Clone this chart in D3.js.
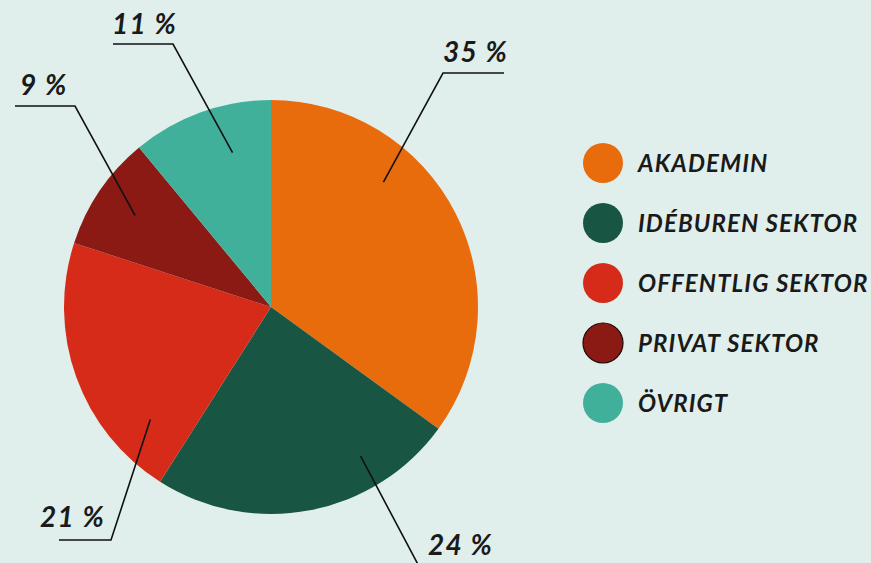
<!DOCTYPE html>
<html>
<head>
<meta charset="utf-8">
<script src="https://cdn.jsdelivr.net/npm/d3@7"></script>
<style>
  html, body { margin: 0; padding: 0; background: #e0efec; }
  svg { display: block; }
  text { font-family: Lato, "Open Sans", sans-serif; font-style: italic; font-weight: 700; fill: #1a1a1a; }
</style>
</head>
<body>
<svg id="chart" width="871" height="563"></svg>
<script>
const categories = ['AKADEMIN', 'IDÉBUREN SEKTOR', 'OFFENTLIG SEKTOR', 'PRIVAT SEKTOR', 'ÖVRIGT'];
const values = [35, 24, 21, 9, 11];
const colors = ['#e96c0c', '#185543', '#d62b18', '#8b1914', '#41b09b'];

// leader line layout: angle (deg, clockwise from top) and radius of inner end,
// elbow point, horizontal run and label position
const leaders = [
    {angle: 42, r: 168, elbow: [443, 73], run: [443, 504], label: [443, 62]},
    {angle: 149, r: 174, elbow: [422, 572], run: [422, 500], label: [428, 555]},
    {angle: 227, r: 165, elbow: [111, 540], run: [59, 111], label: [40, 527]},
    {angle: 304, r: 164, elbow: [75, 106], run: [15, 75], label: [20, 95]},
    {angle: 346, r: 159, elbow: [173, 44], run: [113, 173], label: [112, 34]}
];

const svg = d3.select('#chart');
const cx = 271, cy = 307, radius = 207;

const pie = d3.pie().sort(null).value(d => d)(values);
const arc = d3.arc().innerRadius(0).outerRadius(radius);

const g = svg.append('g').attr('transform', `translate(${cx},${cy})`);
g.selectAll('path')
    .data(pie)
    .join('path')
    .attr('d', arc)
    .attr('fill', (d, i) => colors[i]);

// leader lines
leaders.forEach((l, i) => {
    const a = l.angle * Math.PI / 180;
    const x0 = cx + l.r * Math.sin(a);
    const y0 = cy - l.r * Math.cos(a);
    const farX = l.run[0] === l.elbow[0] ? l.run[1] : l.run[0];
    svg.append('polyline')
        .attr('points', `${x0},${y0} ${l.elbow[0]},${l.elbow[1]} ${farX},${l.elbow[1]}`)
        .attr('fill', 'none')
        .attr('stroke', '#111')
        .attr('stroke-width', 1.6);

    svg.append('text')
        .attr('x', l.label[0])
        .attr('y', l.label[1])
        .attr('font-size', 28)
        .attr('letter-spacing', 1.3)
        .text(values[i] + ' %');
});

// legend
const legend = svg.append('g');
const legendY = d3.scalePoint().domain(categories).range([163, 403]);
const items = legend.selectAll('g')
    .data(categories)
    .join('g')
    .attr('transform', d => `translate(603,${legendY(d)})`);

items.append('circle')
    .attr('r', 20)
    .attr('fill', (d, i) => colors[i])
    .attr('stroke', (d, i) => i === 3 ? '#1a0a08' : 'none')
    .attr('stroke-width', 1.2);

items.append('text')
    .attr('x', 35)
    .attr('y', 9)
    .attr('font-size', 24)
    .attr('letter-spacing', 1.1)
    .text(d => d);
</script>
</body>
</html>
